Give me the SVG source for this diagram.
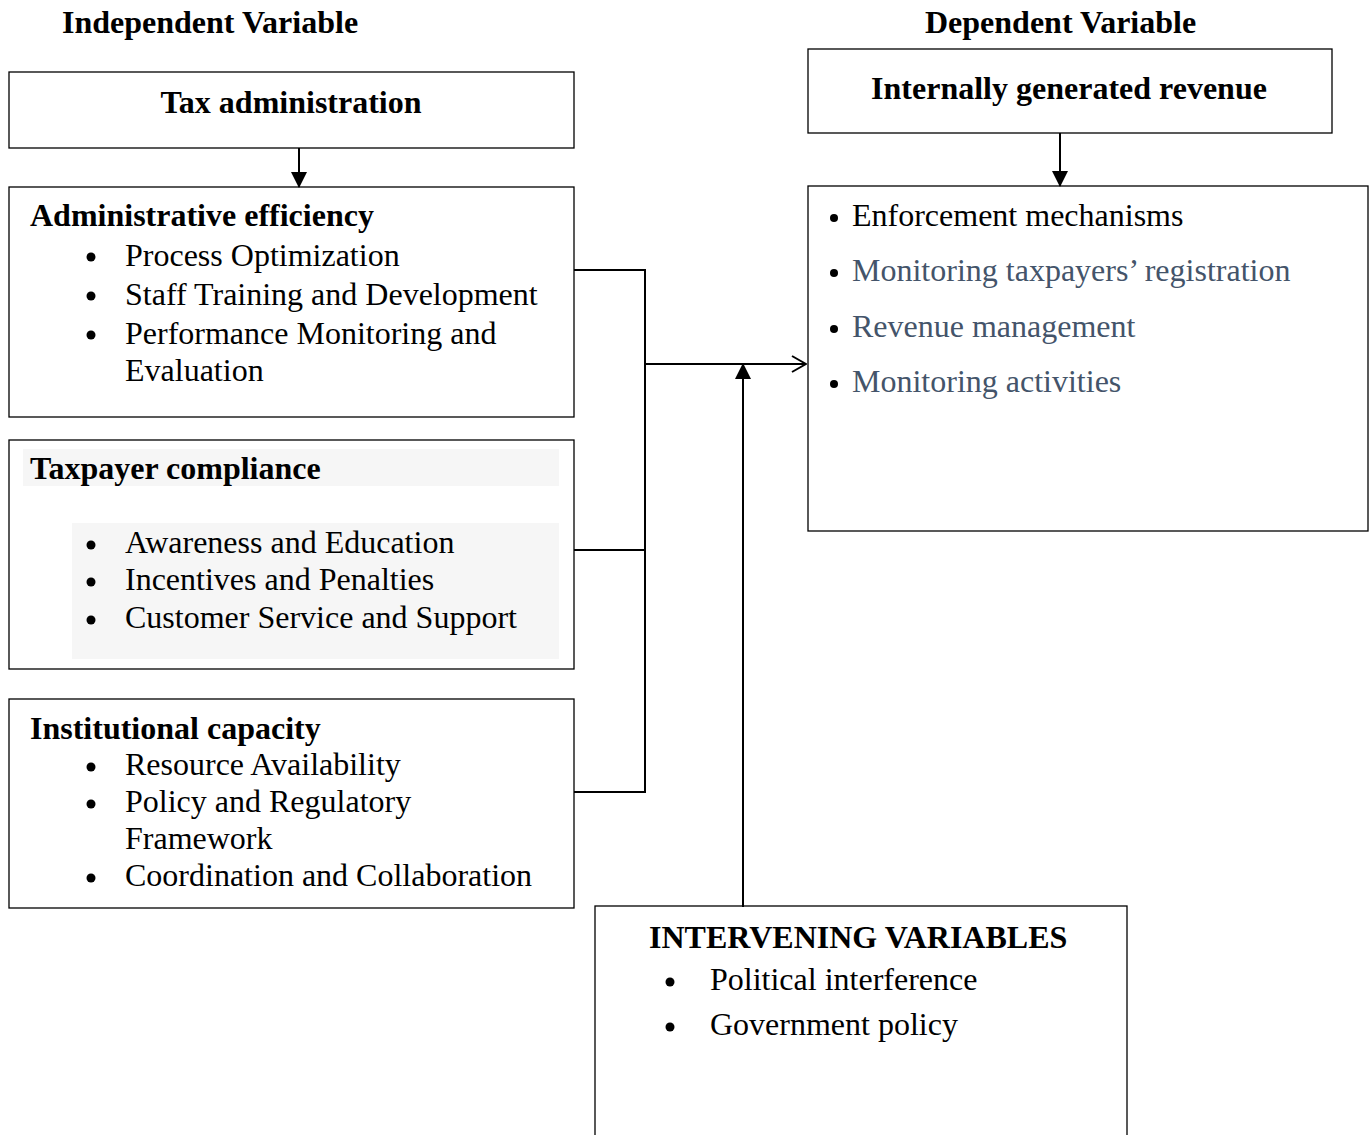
<svg xmlns="http://www.w3.org/2000/svg" width="1371" height="1135" viewBox="0 0 1371 1135">
<style>
.box{fill:#fff;stroke:#000;stroke-width:1.3}
.t{font-family:"Liberation Serif","Times New Roman",serif;font-size:32px;fill:#000}
.b{font-weight:bold}
.g{fill:#44546a}
.ln{fill:none;stroke:#000;stroke-width:2}
.shade{fill:#f6f6f6}
.dot{fill:#000}
</style>
<defs>
<marker id="fill" markerWidth="16" markerHeight="16" refX="15" refY="8" orient="auto" markerUnits="userSpaceOnUse" viewBox="0 0 16 16">
<path d="M0,0 L16,8 L0,16 z" fill="#000"/>
</marker>
<marker id="open" markerWidth="16" markerHeight="18" refX="15" refY="9" orient="auto" markerUnits="userSpaceOnUse" viewBox="0 0 16 18">
<path d="M1,1 L15,9 L1,17" fill="none" stroke="#000" stroke-width="2"/>
</marker>
</defs>
<text class="t b" x="62" y="33">Independent Variable</text>
<text class="t b" x="925" y="33">Dependent Variable</text>

<g id="tax-administration">
<rect class="box" x="9" y="72" width="565" height="76"/>
<text class="t b" x="291" y="113" text-anchor="middle">Tax administration</text>
</g>

<g id="administrative-efficiency">
<rect class="box" x="9" y="187" width="565" height="230"/>
<text class="t b" x="30" y="226">Administrative efficiency</text>
<circle class="dot" cx="91" cy="257" r="4.5"/><text class="t" x="125" y="266">Process Optimization</text>
<circle class="dot" cx="91" cy="296" r="4.5"/><text class="t" x="125" y="305">Staff Training and Development</text>
<circle class="dot" cx="91" cy="335" r="4.5"/><text class="t" x="125" y="344">Performance Monitoring and</text>
<text class="t" x="125" y="381">Evaluation</text>
</g>

<g id="taxpayer-compliance">
<rect class="box" x="9" y="440" width="565" height="229"/>
<rect class="shade" x="23" y="449" width="536" height="37"/>
<rect class="shade" x="72" y="523" width="487" height="136"/>
<text class="t b" x="30" y="479">Taxpayer compliance</text>
<circle class="dot" cx="91" cy="545" r="4.5"/><text class="t" x="125" y="553">Awareness and Education</text>
<circle class="dot" cx="91" cy="582" r="4.5"/><text class="t" x="125" y="590">Incentives and Penalties</text>
<circle class="dot" cx="91" cy="620" r="4.5"/><text class="t" x="125" y="628">Customer Service and Support</text>
</g>

<g id="institutional-capacity">
<rect class="box" x="9" y="699" width="565" height="209"/>
<text class="t b" x="30" y="739">Institutional capacity</text>
<circle class="dot" cx="91" cy="767" r="4.5"/><text class="t" x="125" y="775">Resource Availability</text>
<circle class="dot" cx="91" cy="804" r="4.5"/><text class="t" x="125" y="812">Policy and Regulatory</text>
<text class="t" x="125" y="849">Framework</text>
<circle class="dot" cx="91" cy="878" r="4.5"/><text class="t" x="125" y="886">Coordination and Collaboration</text>
</g>

<g id="internally-generated-revenue">
<rect class="box" x="808" y="49" width="524" height="84"/>
<text class="t b" x="1069" y="99" text-anchor="middle">Internally generated revenue</text>
</g>

<g id="revenue-indicators">
<rect class="box" x="808" y="186" width="560" height="345"/>
<circle class="dot" cx="834" cy="218" r="4"/><text class="t" x="852" y="226">Enforcement mechanisms</text>
<circle class="dot" cx="834" cy="273" r="4"/><text class="t g" x="852" y="281">Monitoring taxpayers’ registration</text>
<circle class="dot" cx="834" cy="329" r="4"/><text class="t g" x="852" y="337">Revenue management</text>
<circle class="dot" cx="834" cy="384" r="4"/><text class="t g" x="852" y="392">Monitoring activities</text>
</g>

<g id="intervening-variables">
<rect class="box" x="595" y="906" width="532" height="240"/>
<text class="t b" x="649" y="948">INTERVENING VARIABLES</text>
<circle class="dot" cx="670" cy="982" r="4.5"/><text class="t" x="710" y="990">Political interference</text>
<circle class="dot" cx="670" cy="1027" r="4.5"/><text class="t" x="710" y="1035">Government policy</text>
</g>

<g id="connectors">
<line class="ln" x1="299" y1="148" x2="299" y2="187" marker-end="url(#fill)"/>
<line class="ln" x1="1060" y1="133" x2="1060" y2="186" marker-end="url(#fill)"/>
<polyline class="ln" points="574,270 645,270 645,792 574,792"/>
<line class="ln" x1="574" y1="550" x2="645" y2="550"/>
<line class="ln" x1="645" y1="364" x2="806" y2="364" marker-end="url(#open)"/>
<line class="ln" x1="743" y1="907" x2="743" y2="364" stroke-width="2.5" marker-end="url(#fill)"/>
</g>
</svg>
